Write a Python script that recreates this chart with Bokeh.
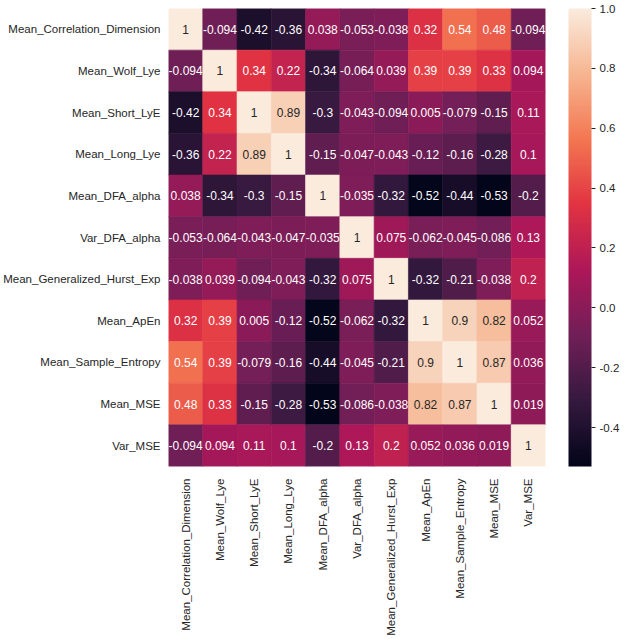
from bokeh.plotting import figure
from bokeh.models import LinearColorMapper, ColorBar, FixedTicker, PrintfTickFormatter, ColumnDataSource
from bokeh.transform import transform
from bokeh.core.properties import value
from bokeh.embed import file_html
from bokeh.resources import INLINE

labels = ["Mean_Correlation_Dimension", "Mean_Wolf_Lye", "Mean_Short_LyE", "Mean_Long_Lye",
          "Mean_DFA_alpha", "Var_DFA_alpha", "Mean_Generalized_Hurst_Exp", "Mean_ApEn",
          "Mean_Sample_Entropy", "Mean_MSE", "Var_MSE"]

row_corr_dim = [1, -0.094, -0.42, -0.36, 0.038, -0.053, -0.038, 0.32, 0.54, 0.48, -0.094]
row_wolf = [-0.094, 1, 0.34, 0.22, -0.34, -0.064, 0.039, 0.39, 0.39, 0.33, 0.094]
row_short = [-0.42, 0.34, 1, 0.89, -0.3, -0.043, -0.094, 0.005, -0.079, -0.15, 0.11]
row_long = [-0.36, 0.22, 0.89, 1, -0.15, -0.047, -0.043, -0.12, -0.16, -0.28, 0.1]
row_dfa = [0.038, -0.34, -0.3, -0.15, 1, -0.035, -0.32, -0.52, -0.44, -0.53, -0.2]
row_var_dfa = [-0.053, -0.064, -0.043, -0.047, -0.035, 1, 0.075, -0.062, -0.045, -0.086, 0.13]
row_hurst = [-0.038, 0.039, -0.094, -0.043, -0.32, 0.075, 1, -0.32, -0.21, -0.038, 0.2]
row_apen = [0.32, 0.39, 0.005, -0.12, -0.52, -0.062, -0.32, 1, 0.9, 0.82, 0.052]
row_sampen = [0.54, 0.39, -0.079, -0.16, -0.44, -0.045, -0.21, 0.9, 1, 0.87, 0.036]
row_mse = [0.48, 0.33, -0.15, -0.28, -0.53, -0.086, -0.038, 0.82, 0.87, 1, 0.019]
row_var_mse = [-0.094, 0.094, 0.11, 0.1, -0.2, 0.13, 0.2, 0.052, 0.036, 0.019, 1]

rows = [row_corr_dim, row_wolf, row_short, row_long, row_dfa, row_var_dfa,
        row_hurst, row_apen, row_sampen, row_mse, row_var_mse]

cbar_ticks = [-0.4, -0.2, 0.0, 0.2, 0.4, 0.6, 0.8, 1.0]

# seaborn "rocket"-like palette anchors
anchors = ["#03051a", "#35193e", "#701f57", "#ad1759", "#e13342", "#f37651", "#f6b48f", "#faebdd"]

def hex2rgb(h):
    return tuple(int(h[i:i + 2], 16) for i in (1, 3, 5))

def build_palette(n=256):
    out = []
    k = len(anchors) - 1
    for i in range(n):
        t = i / (n - 1) * k
        j = min(int(t), k - 1)
        f = t - j
        a, b = hex2rgb(anchors[j]), hex2rgb(anchors[j + 1])
        c = tuple(round(a[m] + (b[m] - a[m]) * f) for m in range(3))
        out.append("#%02x%02x%02x" % c)
    return out

palette = build_palette()
all_vals = [v for r in rows for v in r]
low, high = min(all_vals), max(all_vals)

def lum(hexc):
    rgb = [c / 255 for c in hex2rgb(hexc)]
    lin = [c / 12.92 if c <= 0.03928 else ((c + 0.055) / 1.055) ** 2.4 for c in rgb]
    return 0.2126 * lin[0] + 0.7152 * lin[1] + 0.0722 * lin[2]

xs, ys, vs, txt, tcol = [], [], [], [], []
for ri, r in enumerate(rows):
    for ci, v in enumerate(r):
        xs.append(labels[ci])
        ys.append(labels[ri])
        vs.append(v)
        txt.append(f"{v:.2g}")
        idx = int(round((v - low) / (high - low) * 255))
        tcol.append("#262626" if lum(palette[idx]) > 0.408 else "white")

src = ColumnDataSource(dict(x=xs, y=ys, v=vs, t=txt, tc=tcol))
mapper = LinearColorMapper(palette=palette, low=low, high=high)

p = figure(frame_width=377, frame_height=458, x_range=labels, y_range=list(reversed(labels)),
           output_backend="svg", toolbar_location=None,
           min_border_left=160, min_border_right=10, min_border_top=8, min_border_bottom=155)
p.rect(x="x", y="y", width=1, height=1, source=src,
       fill_color=transform("v", mapper), line_color=transform("v", mapper), line_width=0.6)
p.text(x="x", y="y", text="t", source=src, text_color="tc",
       text_align="center", text_baseline="middle",
       text_font=value("Liberation Sans"), text_font_size="12px")

p.outline_line_color = None
p.grid.grid_line_color = None
for ax in (p.xaxis[0], p.yaxis[0]):
    ax.axis_line_color = None
    ax.major_tick_line_color = None
    ax.minor_tick_line_color = None
    ax.major_tick_out = 0
    ax.major_tick_in = 0
    ax.major_label_text_font = "Liberation Sans"
    ax.major_label_text_font_size = "11.5px"
    ax.major_label_text_color = "#262626"
p.yaxis.major_label_standoff = 8
p.xaxis.major_label_standoff = 12
p.xaxis.major_label_orientation = 1.5707963

cb = ColorBar(color_mapper=mapper, ticker=FixedTicker(ticks=cbar_ticks),
              formatter=PrintfTickFormatter(format="%.1f"),
              width=23, height=458, location=(23, 0), padding=0, margin=0,
              major_tick_out=4, major_tick_in=0, major_tick_line_color="#262626",
              minor_tick_line_color=None,
              major_label_text_font="Liberation Sans", major_label_text_font_size="11.5px",
              major_label_text_color="#262626", bar_line_color=None,
              border_line_color=None, background_fill_alpha=0, label_standoff=4)
p.add_layout(cb, "right")

open("out.html", "w").write(file_html(p, INLINE))
